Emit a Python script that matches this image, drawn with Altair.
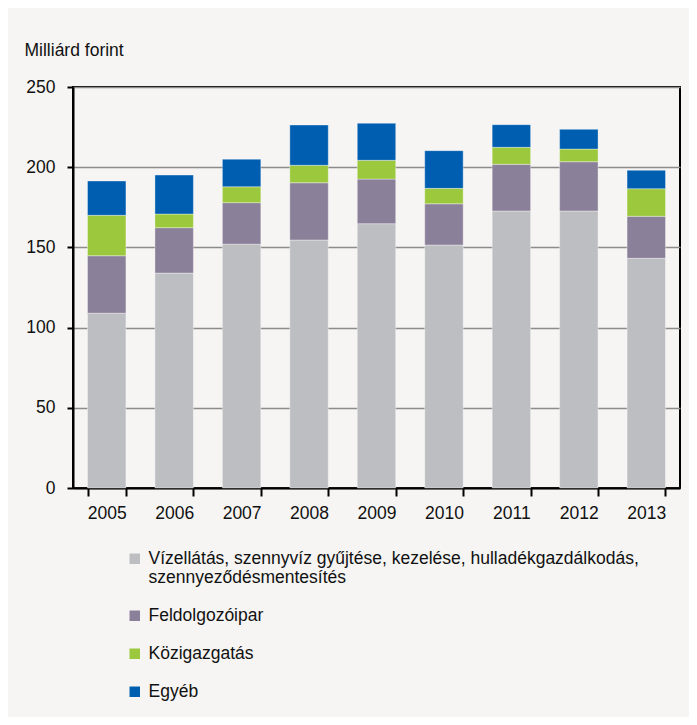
import altair as alt
import pandas as pd

years = ["2005", "2006", "2007", "2008", "2009", "2010", "2011", "2012", "2013"]
series = [
    "Vízellátás, szennyvíz gyűjtése, kezelése, hulladékgazdálkodás, szennyeződésmentesítés",
    "Feldolgozóipar",
    "Közigazgatás",
    "Egyéb",
]
viz = [109.0, 134.0, 152.0, 154.6, 164.8, 151.5, 172.7, 172.7, 143.2]
feldolgozo = [35.8, 28.3, 25.9, 35.7, 27.8, 25.7, 29.1, 30.7, 26.2]
kozig = [25.2, 8.5, 9.9, 10.9, 11.7, 9.6, 10.6, 7.9, 17.2]
egyeb = [21.4, 24.3, 17.2, 25.1, 23.1, 23.5, 14.1, 12.3, 11.5]
colors = ["#BDBEC2", "#8B8099", "#9BC83C", "#005EB0"]

rows = []
for si, (name, vals) in enumerate(zip(series, [viz, feldolgozo, kozig, egyeb])):
    for y, v in zip(years, vals):
        rows.append({"Év": y, "Sorozat": name, "Érték": v, "rend": si})
df = pd.DataFrame(rows)

FONT = "Liberation Sans, Arial, sans-serif"
FS = 17.5
TXT = "#111111"

label_expr = (
    "datum.label == '" + series[0] + "' ? "
    "['Vízellátás, szennyvíz gyűjtése, kezelése, hulladékgazdálkodás,', 'szennyeződésmentesítés'] : datum.label"
)

chart = (
    alt.Chart(df)
    .mark_bar(stroke="#FFFFFF", strokeWidth=0.6, strokeOpacity=0.6)
    .encode(
        x=alt.X(
            "Év:N",
            sort=years,
            scale=alt.Scale(paddingInner=0.43, paddingOuter=0.215),
            axis=alt.Axis(
                title=None,
                labelAngle=0,
                tickBand="extent",
                tickSize=8,
                tickWidth=2,
                tickColor="#000000",
                domainColor="#000000",
                domainWidth=2,
                labelPadding=8,
                grid=False,
            ),
        ),
        y=alt.Y(
            "Érték:Q",
            stack="zero",
            scale=alt.Scale(domain=[0, 250], nice=False),
            axis=alt.Axis(
                title="Milliárd forint",
                titleAngle=0,
                titleAlign="left",
                titleBaseline="middle",
                titleX=-49,
                titleY=-37,
                titleFontWeight="normal",
                titleFontSize=FS,
                titleFont=FONT,
                values=[0, 50, 100, 150, 200, 250],
                tickSize=6,
                tickWidth=2,
                tickColor="#000000",
                domainColor="#000000",
                domainWidth=2,
                labelPadding=12,
                gridColor="#8C8C8C",
                gridWidth=1.5,
            ),
        ),
        color=alt.Color(
            "Sorozat:N",
            sort=series,
            scale=alt.Scale(domain=series, range=colors),
            legend=alt.Legend(
                title=None,
                orient="none",
                legendX=53,
                legendY=463,
                direction="vertical",
                symbolType="square",
                symbolSize=110,
                symbolStrokeWidth=0,
                labelFontSize=FS,
                labelFont=FONT,
                labelColor=TXT,
                labelLimit=700,
                labelOffset=5,
                rowPadding=19,
                labelExpr=label_expr,
            ),
        ),
        order=alt.Order("rend:Q", sort="ascending"),
    )
    .properties(
        width=607,
        height=401,
        background="#F6F5F3",
        padding={"left": 65, "top": 79, "right": 9, "bottom": 229},
        autosize=alt.AutoSizeParams(type="none"),
    )
    .configure_view(stroke="#000000", strokeWidth=2)
    .configure_axis(labelFont=FONT, labelFontSize=FS, labelColor=TXT, titleColor=TXT)
)

chart.save("out.html", embed_options={"renderer": "svg", "actions": False})
